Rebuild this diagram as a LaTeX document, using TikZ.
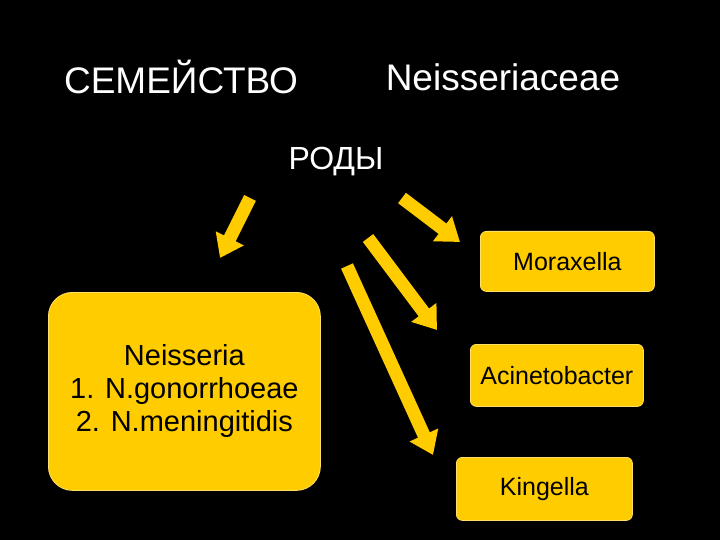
\documentclass[tikz,border=0pt]{standalone}
\usepackage{fontspec}
\setmainfont{Liberation Sans}
\usetikzlibrary{arrows.meta}
\definecolor{yel}{HTML}{FFCC00}
\tikzset{
  box/.style={fill=yel,draw=yel!60!white,line width=0.8pt,rounded corners=6pt,font=\fontsize{25}{30}\selectfont,align=center,anchor=north west,inner sep=0pt},
  blk/.style={draw=yel,line width=13pt,-{Triangle[width=30pt,length=22pt]}},
  ttl/.style={text=white,font=\fontsize{37}{42}\selectfont}
}
\begin{document}
\begin{tikzpicture}[x=1pt,y=-1pt]
\fill[black] (0,0) rectangle (720,540);
\useasboundingbox (0,0) rectangle (720,540);
\node[ttl] (fam) at (181,77) {СЕМЕЙСТВО};
\node[ttl] (nei) at (503,77) {Neisseriaceae};
\node[text=white,font=\fontsize{32}{36}\selectfont] (rod) at (336,162) {РОДЫ};
\node[box,minimum width=272pt,minimum height=198pt,rounded corners=24pt,font=\fontsize{29}{33}\selectfont] (b1) at (48,292) {Neisseria\\1. N.gonorrhoeae\\2. N.meningitidis};
\node[box,minimum width=174pt,minimum height=60pt] (b2) at (480,231) {Moraxella};
\node[box,minimum width=173pt,minimum height=62pt] (b3) at (470,344) {Acinetobacter};
\node[box,minimum width=176pt,minimum height=63pt] (b4) at (456,457) {Kingella};
\coordinate (t1) at (250,198); \coordinate (h1) at (220,258);
\coordinate (t2) at (402,198); \coordinate (h2) at (460,242);
\coordinate (t3) at (368,238); \coordinate (h3) at (437,330);
\coordinate (t4) at (347,266); \coordinate (h4) at (433,455);
\draw[blk] (t1) -- (h1);
\draw[blk] (t2) -- (h2);
\draw[blk] (t3) -- (h3);
\draw[blk] (t4) -- (h4);
\end{tikzpicture}
\end{document}
